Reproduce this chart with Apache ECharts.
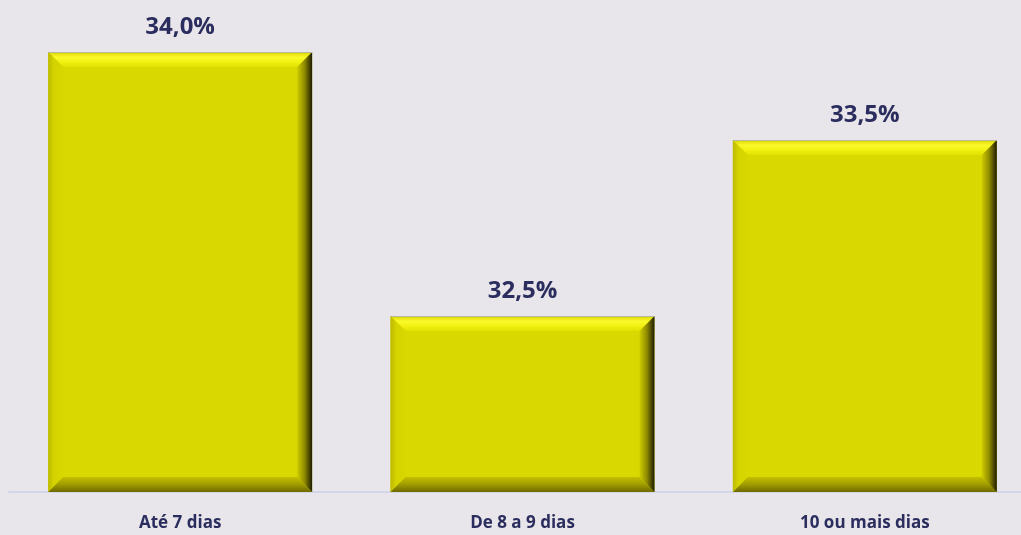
<!DOCTYPE html>
<html>
<head>
<meta charset="utf-8">
<script src="https://cdn.jsdelivr.net/npm/echarts@6/dist/echarts.min.js"></script>
<style>
  html, body { margin: 0; padding: 0; background: #E8E6EA; }
  #chart { width: 1021px; height: 535px; }
</style>
</head>
<body>
<div id="chart"></div>
<script>
var categories = ['Até 7 dias', 'De 8 a 9 dias', '10 ou mais dias'];
var values = [34.0, 32.5, 33.5];

var yMin = 31.5;
var yMax = 34;
var labelColor = '#2B2D5E';

var chart = echarts.init(document.getElementById('chart'));

// bevel overlay drawn on top of each bar
var renderBevel = function(params, api) {
  var cat = api.value(0);
  var top = api.coord([cat, api.value(1)]);
  var base = api.coord([cat, yMin]);
  var w = api.size([1, 0])[0] * 0.771;
  var x0 = top[0] - w / 2, x1 = top[0] + w / 2;
  var y0 = top[1], y1 = base[1];
  var b = 15;
  return {
    type: 'group',
    children: [
      {
        type: 'polygon',
        shape: { points: [[x0, y0], [x1, y0], [x1 - b, y0 + b], [x0 + b, y0 + b]] },
        style: {
          fill: new echarts.graphic.LinearGradient(0, 0, 0, 1, [
            { offset: 0, color: '#D8D400' },
            { offset: 0.35, color: '#FAFA2A' },
            { offset: 0.7, color: '#F0F010' },
            { offset: 1, color: '#E2E000' }
          ])
        }
      },
      {
        type: 'polygon',
        shape: { points: [[x0, y0], [x0 + b, y0 + b], [x0 + b, y1 - b], [x0, y1]] },
        style: {
          fill: new echarts.graphic.LinearGradient(0, 0, 1, 0, [
            { offset: 0, color: '#BDBA00' },
            { offset: 0.4, color: '#D6D400' },
            { offset: 1, color: '#D9D700' }
          ])
        }
      },
      {
        type: 'polygon',
        shape: { points: [[x0, y1], [x0 + b, y1 - b], [x1 - b, y1 - b], [x1, y1]] },
        style: {
          fill: new echarts.graphic.LinearGradient(0, 0, 0, 1, [
            { offset: 0, color: '#C2BF00' },
            { offset: 0.5, color: '#A09C00' },
            { offset: 1, color: '#6E6A00' }
          ])
        }
      },
      {
        type: 'polygon',
        shape: { points: [[x1, y0], [x1, y1], [x1 - b, y1 - b], [x1 - b, y0 + b]] },
        style: {
          fill: new echarts.graphic.LinearGradient(0, 0, 1, 0, [
            { offset: 0, color: '#CFCC00' },
            { offset: 0.5, color: '#8E8A00' },
            { offset: 0.85, color: '#403C00' },
            { offset: 1, color: '#1E1C00' }
          ])
        }
      },
      {
        type: 'line',
        shape: { x1: x0, y1: y0 + 0.5, x2: x1, y2: y0 + 0.5 },
        style: { stroke: '#B9B79A', lineWidth: 1 }
      }
    ]
  };
};

chart.setOption({
  backgroundColor: '#E8E6EA',
  animation: false,
  grid: { left: 9, right: -15, top: 52, bottom: 43, outerBoundsMode: 'none', containLabel: false },
  xAxis: {
    type: 'category',
    data: categories,
    axisLine: { lineStyle: { color: '#D3D6EA', width: 2 } },
    axisTick: { show: false },
    axisLabel: {
      color: labelColor,
      fontFamily: 'Open Sans',
      fontWeight: 'bold',
      fontSize: 17,
      margin: 23
    }
  },
  yAxis: {
    type: 'value',
    min: yMin,
    max: yMax,
    show: false
  },
  series: [
    {
      type: 'bar',
      data: values,
      barWidth: '77.1%',
      itemStyle: { color: '#D9D800' },
      label: {
        show: true,
        position: 'top',
        distance: 13,
        color: labelColor,
        fontFamily: 'Open Sans',
        fontWeight: 'bold',
        fontSize: 24,
        formatter: function(p) {
          return p.value.toFixed(1).replace('.', ',') + '%';
        }
      }
    },
    {
      type: 'custom',
      renderItem: renderBevel,
      data: values.map(function(v, i) { return [i, v]; }),
      z: 3,
      silent: true
    }
  ]
});
</script>
</body>
</html>
